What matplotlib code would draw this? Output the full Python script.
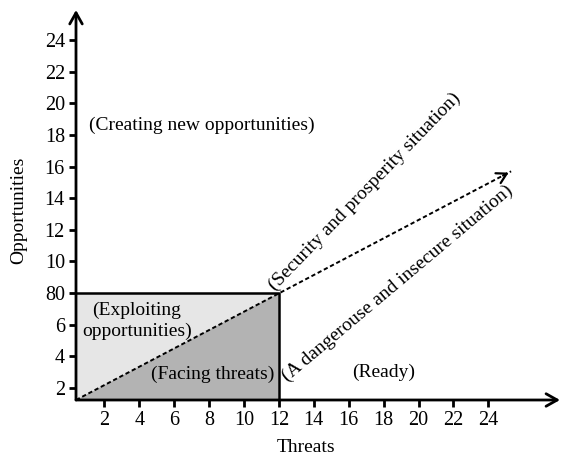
import matplotlib
matplotlib.use("Agg")
import matplotlib.pyplot as plt
from matplotlib.patches import Polygon

plt.rcParams['font.family'] = ['Liberation Serif', 'DejaVu Serif']

# data
x_ticks = [2, 4, 6, 8, 10, 12, 14, 16, 18, 20, 22, 24]
x_tick_labels = ["2", "4", "6", "8", "10", "12", "14", "16", "18", "20", "22", "24"]
y_ticks = [2, 4, 6, 8, 10, 12, 14, 16, 18, 20, 22, 24]
y_tick_labels = ["2", "4", "6", "80", "10", "12", "14", "16", "18", "20", "22", "24"]
origin = (0.38, 1.24)
box_corner = (12, 8)
trend_end = (25.3, 15.7)
x_max, y_max = 28.1, 25.9
region_labels = ["(Creating new opportunities)", "(Exploiting\nopportunities)",
                 "(Facing threats)", "(Ready)",
                 "(Security and prosperity situation)",
                 "(A dangerouse and insecure situation)"]

fig = plt.figure(figsize=(5.63, 4.58), dpi=100)
ax = fig.add_axes([76/563, 1-400/458, (560-76)/563, (400-10)/458])
ax.set_xlim(origin[0], x_max)
ax.set_ylim(origin[1], y_max)
for s in ax.spines.values():
    s.set_visible(False)

x0, y0 = origin
bx, by = box_corner
# upper-left triangle (light)
ax.add_patch(Polygon([(x0, y0), (x0, by), (bx, by)], closed=True,
                     facecolor='#e6e6e6', edgecolor='none', zorder=1))
# lower-right triangle (dark)
ax.add_patch(Polygon([(x0, y0), (bx, by), (bx, y0)], closed=True,
                     facecolor='#b3b3b3', edgecolor='none', zorder=1))
# box border
ax.plot([x0, bx, bx], [by, by, y0], color='black', lw=1.8, zorder=3,
        solid_capstyle='butt')

# dotted trend arrow
ax.plot([x0, trend_end[0]], [y0, trend_end[1]], color='black', lw=1.4,
        linestyle=(0, (2.2, 1.4)), zorder=4)
slope = (trend_end[1] - y0) / (trend_end[0] - x0)
ax.annotate('', xy=trend_end, xytext=(trend_end[0] - 0.6, trend_end[1] - 0.6 * slope),
            arrowprops=dict(arrowstyle='->,head_length=0.7,head_width=0.4', color='black', lw=1.6),
            zorder=5)

# axes with arrows
ax.annotate('', xy=(x_max, y0), xytext=(x0, y0),
            arrowprops=dict(arrowstyle='->,head_length=0.8,head_width=0.45', color='black', lw=2,
                            shrinkA=0, shrinkB=0), annotation_clip=False, zorder=6)
ax.annotate('', xy=(x0, y_max), xytext=(x0, y0),
            arrowprops=dict(arrowstyle='->,head_length=0.8,head_width=0.45', color='black', lw=2,
                            shrinkA=0, shrinkB=0), annotation_clip=False, zorder=6)

ax.set_xticks(x_ticks)
ax.set_xticklabels(x_tick_labels)
ax.set_yticks(y_ticks)
ax.set_yticklabels(y_tick_labels)
ax.tick_params(axis='both', direction='out', length=5, width=2, labelsize=14.5, pad=3)

ax.set_xlabel("Threats", fontsize=14)
ax.set_ylabel("Opportunities", fontsize=14)
ax.xaxis.set_label_coords((306 - 76) / 484, -(439 - 400) / 390)
ax.yaxis.set_label_coords(-(76 - 27) / 484, (400 - 210) / 390)

fs = 14
ax.text(7.6, 18.6, region_labels[0], fontsize=fs, ha='center', va='center')
ax.text(3.87, 6.24, region_labels[1], fontsize=fs, ha='center', va='center',
        linespacing=1.3, multialignment='center', zorder=5)
ax.text(8.2, 2.88, region_labels[2], fontsize=fs, ha='center', va='center', zorder=5)
ax.text(18.0, 3.0, region_labels[3], fontsize=fs, ha='center', va='center')
ax.text(16.9, 14.4, region_labels[4], fontsize=fs, ha='center', va='center',
        rotation=46, rotation_mode='anchor')
ax.text(18.8, 8.6, region_labels[5], fontsize=fs, ha='center', va='center',
        rotation=40, rotation_mode='anchor')

fig.savefig("out.png", dpi=100)
